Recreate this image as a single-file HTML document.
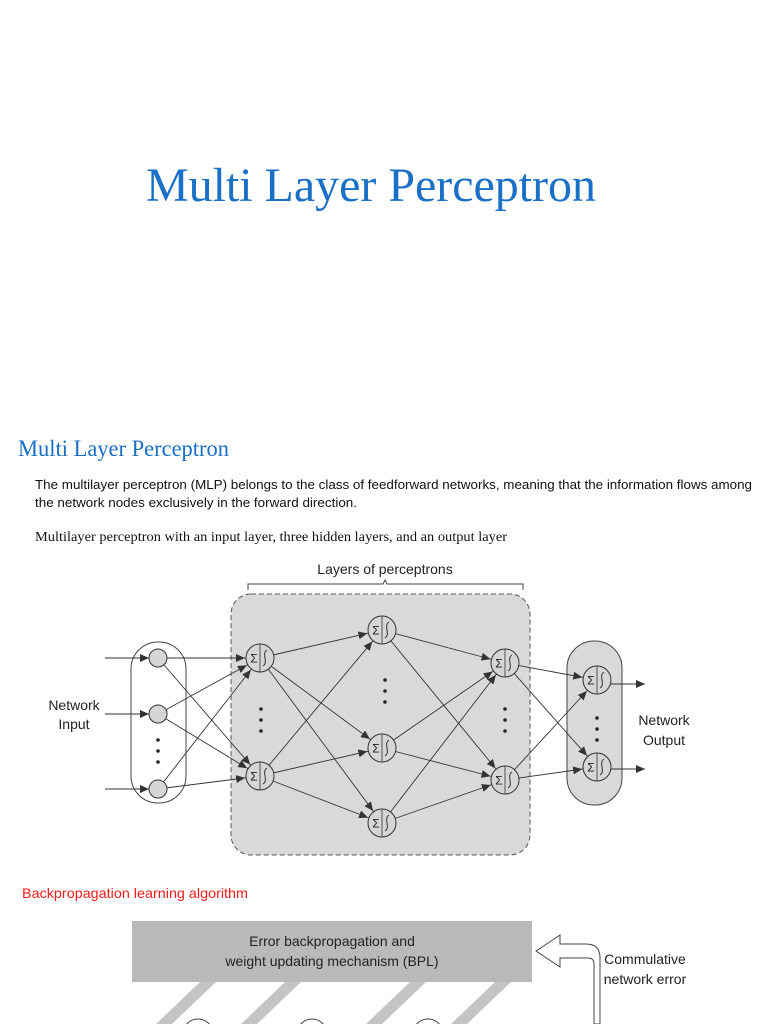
<!DOCTYPE html>
<html><head><meta charset="utf-8"><style>
html,body{margin:0;padding:0;background:#fff;width:768px;height:1024px;overflow:hidden}
</style></head><body>
<svg width="768" height="1024" viewBox="0 0 768 1024" xmlns="http://www.w3.org/2000/svg">
<defs>
<marker id="a15" markerUnits="userSpaceOnUse" markerWidth="30" markerHeight="12" refX="24" refY="4" orient="auto"><path d="M0,0 L9,4 L0,8 Z" fill="#333"/></marker>
<marker id="a9" markerUnits="userSpaceOnUse" markerWidth="30" markerHeight="12" refX="18" refY="4" orient="auto"><path d="M0,0 L9,4 L0,8 Z" fill="#333"/></marker>
<marker id="a0" markerUnits="userSpaceOnUse" markerWidth="12" markerHeight="12" refX="9" refY="4" orient="auto"><path d="M0,0 L9,4 L0,8 Z" fill="#333"/></marker>
<g id="n">
<circle r="14" fill="#d6d6d6" stroke="#333" stroke-width="1"/>
<line x1="0" y1="-14" x2="0" y2="14" stroke="#333" stroke-width="0.8"/>
<text x="-6" y="4.5" font-family="Liberation Sans,sans-serif" font-size="12" text-anchor="middle" fill="#222">Σ</text>
<path d="M7,-8 C1,-4 9,4 3,8" fill="none" stroke="#333" stroke-width="1"/>
</g>
</defs>

<text x="146" y="201" font-family="Liberation Serif,serif" font-size="48" fill="#1a6fc6" textLength="450" lengthAdjust="spacingAndGlyphs">Multi Layer Perceptron</text>
<text x="18" y="456" font-family="Liberation Serif,serif" font-size="23" fill="#1a6fc6" textLength="211" lengthAdjust="spacingAndGlyphs">Multi Layer Perceptron</text>
<text x="35" y="489" font-family="Liberation Sans,sans-serif" font-size="13" fill="#111" textLength="717" lengthAdjust="spacingAndGlyphs">The multilayer perceptron (MLP) belongs to the class of feedforward networks, meaning that the information flows among</text>
<text x="35" y="507" font-family="Liberation Sans,sans-serif" font-size="13" fill="#111" textLength="322" lengthAdjust="spacingAndGlyphs">the network nodes exclusively in the forward direction.</text>
<text x="35" y="541" font-family="Liberation Serif,serif" font-size="14" fill="#111" textLength="472" lengthAdjust="spacingAndGlyphs">Multilayer perceptron with an input layer, three hidden layers, and an output layer</text>

<text x="385" y="574" font-family="Liberation Sans,sans-serif" font-size="14" fill="#222" text-anchor="middle">Layers of perceptrons</text>
<path d="M248,590 L248,584 L383,584 L385,580 L387,584 L523,584 L523,590" fill="none" stroke="#444" stroke-width="1"/>
<rect x="231" y="594" width="299" height="261" rx="20" fill="#d9d9d9" stroke="#555" stroke-dasharray="5,3"/>
<rect x="131" y="642" width="55" height="161" rx="27" fill="#fff" stroke="#444"/>
<rect x="567" y="641" width="55" height="164" rx="27" fill="#d9d9d9" stroke="#444"/>

<g stroke="#333" stroke-width="0.9" fill="none">
<line x1="105" y1="658" x2="158" y2="658" marker-end="url(#a9)"/>
<line x1="105" y1="714" x2="158" y2="714" marker-end="url(#a9)"/>
<line x1="105" y1="789" x2="158" y2="789" marker-end="url(#a9)"/>
<line x1="158" y1="658" x2="260" y2="658" marker-end="url(#a15)"/>
<line x1="158" y1="658" x2="260" y2="776" marker-end="url(#a15)"/>
<line x1="158" y1="714" x2="260" y2="658" marker-end="url(#a15)"/>
<line x1="158" y1="714" x2="260" y2="776" marker-end="url(#a15)"/>
<line x1="158" y1="789" x2="260" y2="658" marker-end="url(#a15)"/>
<line x1="158" y1="789" x2="260" y2="776" marker-end="url(#a15)"/>
<line x1="260" y1="658" x2="382" y2="630" marker-end="url(#a15)"/>
<line x1="260" y1="658" x2="382" y2="748" marker-end="url(#a15)"/>
<line x1="260" y1="658" x2="382" y2="823" marker-end="url(#a15)"/>
<line x1="260" y1="776" x2="382" y2="630" marker-end="url(#a15)"/>
<line x1="260" y1="776" x2="382" y2="748" marker-end="url(#a15)"/>
<line x1="260" y1="776" x2="382" y2="823" marker-end="url(#a15)"/>
<line x1="382" y1="630" x2="505" y2="663" marker-end="url(#a15)"/>
<line x1="382" y1="630" x2="505" y2="780" marker-end="url(#a15)"/>
<line x1="382" y1="748" x2="505" y2="663" marker-end="url(#a15)"/>
<line x1="382" y1="748" x2="505" y2="780" marker-end="url(#a15)"/>
<line x1="382" y1="823" x2="505" y2="663" marker-end="url(#a15)"/>
<line x1="382" y1="823" x2="505" y2="780" marker-end="url(#a15)"/>
<line x1="505" y1="663" x2="597" y2="680" marker-end="url(#a15)"/>
<line x1="505" y1="663" x2="597" y2="767" marker-end="url(#a15)"/>
<line x1="505" y1="780" x2="597" y2="680" marker-end="url(#a15)"/>
<line x1="505" y1="780" x2="597" y2="767" marker-end="url(#a15)"/>
<line x1="611" y1="684" x2="645" y2="684" marker-end="url(#a0)"/>
<line x1="611" y1="769" x2="645" y2="769" marker-end="url(#a0)"/>
</g>

<g fill="#d6d6d6" stroke="#333">
<circle cx="158" cy="658" r="9"/><circle cx="158" cy="714" r="9"/><circle cx="158" cy="789" r="9"/>
</g>
<use href="#n" x="260" y="658"/><use href="#n" x="260" y="776"/>
<use href="#n" x="382" y="630"/><use href="#n" x="382" y="748"/><use href="#n" x="382" y="823"/>
<use href="#n" x="505" y="663"/><use href="#n" x="505" y="780"/>
<use href="#n" x="597" y="680"/><use href="#n" x="597" y="767"/>

<g fill="#222">
<circle cx="158" cy="740" r="1.8"/><circle cx="158" cy="751" r="1.8"/><circle cx="158" cy="762" r="1.8"/>
<circle cx="261" cy="709" r="1.8"/><circle cx="261" cy="720" r="1.8"/><circle cx="261" cy="731" r="1.8"/>
<circle cx="385" cy="680" r="1.8"/><circle cx="385" cy="691" r="1.8"/><circle cx="385" cy="702" r="1.8"/>
<circle cx="505" cy="709" r="1.8"/><circle cx="505" cy="720" r="1.8"/><circle cx="505" cy="731" r="1.8"/>
<circle cx="597" cy="718" r="1.8"/><circle cx="597" cy="729" r="1.8"/><circle cx="597" cy="740" r="1.8"/>
</g>
<g font-family="Liberation Sans,sans-serif" font-size="14" fill="#222" text-anchor="middle">
<text x="74" y="710">Network</text><text x="74" y="729">Input</text>
<text x="664" y="725">Network</text><text x="664" y="745">Output</text>
</g>

<text x="22" y="898" font-family="Liberation Sans,sans-serif" font-size="14" fill="#ff1a1a" textLength="226" lengthAdjust="spacingAndGlyphs">Backpropagation learning algorithm</text>
<rect x="132" y="921" width="400" height="61" fill="#b9b9b9"/>
<g font-family="Liberation Sans,sans-serif" font-size="14" fill="#222" text-anchor="middle">
<text x="332" y="946">Error backpropagation and</text>
<text x="332" y="966">weight updating mechanism (BPL)</text>
<text x="645" y="964">Commulative</text>
<text x="645" y="984">network error</text>
</g>
<path d="M536,951 L560,935 L560,944 L586,944 Q600,944 600,958 L600,1024 L594,1024 L594,964 Q594,958 588,958 L560,958 L560,967 Z" fill="#fff" stroke="#444" stroke-width="1"/>
<g fill="#c4c4c4">
<polygon points="200,982 216,982 172,1024 156,1024"/>
<polygon points="285,982 301,982 257,1024 241,1024"/>
<polygon points="410,982 426,982 382,1024 366,1024"/>
<polygon points="495,982 511,982 467,1024 451,1024"/>
</g>
<g fill="none" stroke="#444">
<circle cx="198" cy="1034" r="15"/><circle cx="312" cy="1034" r="15"/><circle cx="428" cy="1034" r="15"/>
</g>
</svg>
</body></html>
